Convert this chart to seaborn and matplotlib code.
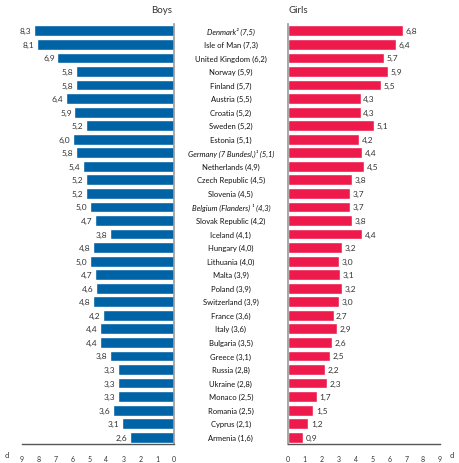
import pandas as pd
import matplotlib
matplotlib.use('Agg')
import matplotlib.pyplot as plt
import matplotlib.transforms as mtransforms
import seaborn as sns

# Data (cl per week, boys / girls, total in brackets)
countries = ['Denmark²', 'Isle of Man', 'United Kingdom', 'Norway', 'Finland',
             'Austria', 'Croatia', 'Sweden', 'Estonia', 'Germany (7 Bundesl.)¹',
             'Netherlands', 'Czech Republic', 'Slovenia', 'Belgium (Flanders) ¹',
             'Slovak Republic', 'Iceland', 'Hungary', 'Lithuania', 'Malta', 'Poland',
             'Switzerland', 'France', 'Italy', 'Bulgaria', 'Greece', 'Russia',
             'Ukraine', 'Monaco', 'Romania', 'Cyprus', 'Armenia']
totals = [7.5, 7.3, 6.2, 5.9, 5.7, 5.5, 5.2, 5.2, 5.1, 5.1, 4.9, 4.5, 4.5, 4.3,
          4.2, 4.1, 4.0, 4.0, 3.9, 3.9, 3.9, 3.6, 3.6, 3.5, 3.1, 2.8, 2.8, 2.5,
          2.5, 2.1, 1.6]
boys = [8.3, 8.1, 6.9, 5.8, 5.8, 6.4, 5.9, 5.2, 6.0, 5.8, 5.4, 5.2, 5.2, 5.0,
        4.7, 3.8, 4.8, 5.0, 4.7, 4.6, 4.8, 4.2, 4.4, 4.4, 3.8, 3.3, 3.3, 3.3,
        3.6, 3.1, 2.6]
girls = [6.8, 6.4, 5.7, 5.9, 5.5, 4.3, 4.3, 5.1, 4.2, 4.4, 4.5, 3.8, 3.7, 3.7,
         3.8, 4.4, 3.2, 3.0, 3.1, 3.2, 3.0, 2.7, 2.9, 2.6, 2.5, 2.2, 2.3, 1.7,
         1.5, 1.2, 0.9]
italic_rows = ['Denmark²', 'Germany (7 Bundesl.)¹', 'Belgium (Flanders) ¹']
ticks = list(range(10))

df = pd.DataFrame({'country': countries, 'total': totals, 'boys': boys, 'girls': girls})

sns.set_style('white')
plt.rcParams['font.family'] = ['Lato', 'DejaVu Sans']

fig = plt.figure(figsize=(4.59, 4.64), dpi=100)
ax_b = fig.add_axes([0.048, 0.041, 0.331, 0.905])
ax_g = fig.add_axes([0.6275, 0.041, 0.331, 0.905])

blue = '#0063a6'
red = '#ee1a4b'
txt = '#333333'

sns.barplot(data=df, x='boys', y='country', ax=ax_b, color=blue, width=0.8,
            saturation=1, orient='h')
sns.barplot(data=df, x='girls', y='country', ax=ax_g, color=red, width=0.8,
            saturation=1, orient='h')

for ax in (ax_b, ax_g):
    ax.set_xlim(0, 9)
    ax.set_ylim(len(countries) - 0.5, -0.5)
    ax.set_xticks(ticks)
    ax.set_xticklabels([str(t) for t in ticks], fontsize=5, color=txt)
    ax.tick_params(axis='x', length=0, pad=8)
    ax.set_yticks([])
    ax.set_xlabel('')
    ax.set_ylabel('')
    ax.spines['top'].set_visible(False)
    ax.spines['bottom'].set_color('#555555')
    ax.spines['bottom'].set_linewidth(1.0)

ax_b.invert_xaxis()
ax_b.spines['left'].set_visible(False)
ax_b.spines['right'].set_color('#999999')
ax_b.spines['right'].set_linewidth(1.2)
ax_g.spines['right'].set_visible(False)
ax_g.spines['left'].set_color('#999999')
ax_g.spines['left'].set_linewidth(1.2)

# value labels
for i, v in enumerate(boys):
    ax_b.text(v + 0.15, i, f'{v:.1f}'.replace('.', ','), ha='right', va='center',
              fontsize=6, color=txt)
for i, v in enumerate(girls):
    ax_g.text(v + 0.15, i, f'{v:.1f}'.replace('.', ','), ha='left', va='center',
              fontsize=6, color=txt)

# country labels in the middle
trans = mtransforms.blended_transform_factory(fig.transFigure, ax_b.transData)
for i, (c, t) in enumerate(zip(countries, totals)):
    label = f'{c} ({t:.1f})'.replace('.', ',')
    style = 'italic' if c in italic_rows else 'normal'
    ax_b.text(0.503, i, label, transform=trans, ha='center', va='center',
              fontsize=5.5, color='#111111', fontstyle=style)

fig.text(0.353, 0.978, 'Boys', ha='center', va='center', fontsize=7, color=txt)
fig.text(0.65, 0.978, 'Girls', ha='center', va='center', fontsize=7, color=txt)
fig.text(0.017, 0.019, 'cl', ha='center', va='center', fontsize=5.5, color=txt)
fig.text(0.985, 0.019, 'cl', ha='center', va='center', fontsize=5.5, color=txt)

fig.savefig('out.png', dpi=100)
